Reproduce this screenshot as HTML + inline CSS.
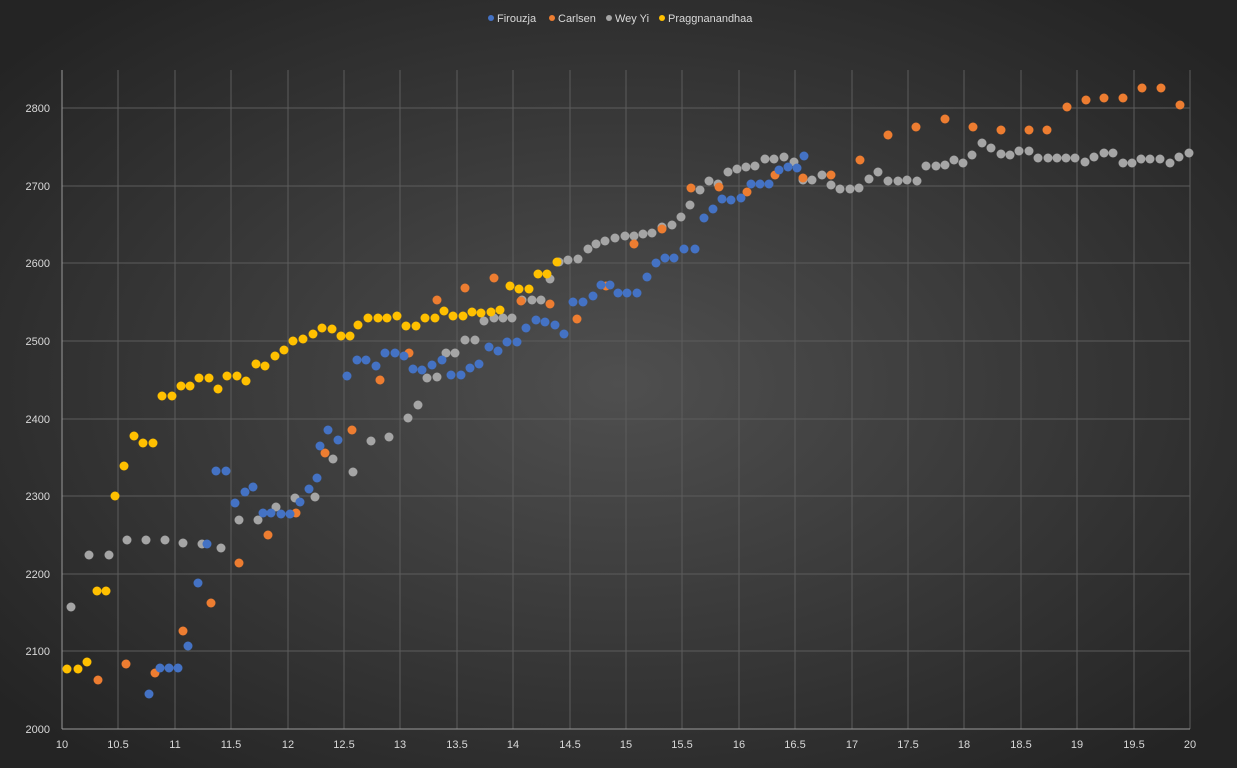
<!DOCTYPE html><html><head><style>html,body{margin:0;padding:0;background:#2a2a2a;overflow:hidden}svg{display:block}</style></head><body>
<svg width="1237" height="768" xmlns="http://www.w3.org/2000/svg" font-family="Liberation Sans, sans-serif">
<defs><radialGradient id="bg" cx="50%" cy="50%" r="65%"><stop offset="0" stop-color="#4f4f4f"/><stop offset="1" stop-color="#242424"/></radialGradient></defs>
<rect width="1237" height="768" fill="url(#bg)"/>
<g stroke="#5c5c5c" stroke-width="1">
<line x1="62" x2="1190" y1="108" y2="108"/><line x1="62" x2="1190" y1="186" y2="186"/><line x1="62" x2="1190" y1="263" y2="263"/><line x1="62" x2="1190" y1="341" y2="341"/><line x1="62" x2="1190" y1="419" y2="419"/><line x1="62" x2="1190" y1="496" y2="496"/><line x1="62" x2="1190" y1="574" y2="574"/><line x1="62" x2="1190" y1="651" y2="651"/>
<line y1="70" y2="729" x1="118" x2="118"/><line y1="70" y2="729" x1="175" x2="175"/><line y1="70" y2="729" x1="231" x2="231"/><line y1="70" y2="729" x1="288" x2="288"/><line y1="70" y2="729" x1="344" x2="344"/><line y1="70" y2="729" x1="400" x2="400"/><line y1="70" y2="729" x1="457" x2="457"/><line y1="70" y2="729" x1="513" x2="513"/><line y1="70" y2="729" x1="570" x2="570"/><line y1="70" y2="729" x1="626" x2="626"/><line y1="70" y2="729" x1="682" x2="682"/><line y1="70" y2="729" x1="739" x2="739"/><line y1="70" y2="729" x1="795" x2="795"/><line y1="70" y2="729" x1="852" x2="852"/><line y1="70" y2="729" x1="908" x2="908"/><line y1="70" y2="729" x1="964" x2="964"/><line y1="70" y2="729" x1="1021" x2="1021"/><line y1="70" y2="729" x1="1077" x2="1077"/><line y1="70" y2="729" x1="1134" x2="1134"/><line y1="70" y2="729" x1="1190" x2="1190"/>
</g>
<line x1="62" x2="62" y1="70" y2="729" stroke="#999"/><line x1="62" x2="1190" y1="729" y2="729" stroke="#999"/>
<g fill="#d9d9d9" font-size="11" text-anchor="end">
<text x="50" y="112">2800</text><text x="50" y="190">2700</text><text x="50" y="267">2600</text><text x="50" y="345">2500</text><text x="50" y="423">2400</text><text x="50" y="500">2300</text><text x="50" y="578">2200</text><text x="50" y="655">2100</text><text x="50" y="733">2000</text>
</g>
<g fill="#d9d9d9" font-size="11" text-anchor="middle">
<text x="62" y="748">10</text><text x="118" y="748">10.5</text><text x="175" y="748">11</text><text x="231" y="748">11.5</text><text x="288" y="748">12</text><text x="344" y="748">12.5</text><text x="400" y="748">13</text><text x="457" y="748">13.5</text><text x="513" y="748">14</text><text x="570" y="748">14.5</text><text x="626" y="748">15</text><text x="682" y="748">15.5</text><text x="739" y="748">16</text><text x="795" y="748">16.5</text><text x="852" y="748">17</text><text x="908" y="748">17.5</text><text x="964" y="748">18</text><text x="1021" y="748">18.5</text><text x="1077" y="748">19</text><text x="1134" y="748">19.5</text><text x="1190" y="748">20</text>
</g>
<g font-size="11" fill="#d9d9d9">
<circle cx="491" cy="18" r="3" fill="#4472c4"/><text x="497" y="22">Firouzja</text>
<circle cx="552" cy="18" r="3" fill="#ed7d31"/><text x="558" y="22">Carlsen</text>
<circle cx="609" cy="18" r="3" fill="#a5a5a5"/><text x="615" y="22">Wey Yi</text>
<circle cx="662" cy="18" r="3" fill="#ffc000"/><text x="668" y="22">Praggnanandhaa</text>
</g>
<g fill="#a5a5a5">
<circle cx="71" cy="607" r="4.5"/><circle cx="89" cy="555" r="4.5"/><circle cx="109" cy="555" r="4.5"/><circle cx="127" cy="540" r="4.5"/><circle cx="146" cy="540" r="4.5"/><circle cx="165" cy="540" r="4.5"/><circle cx="183" cy="543" r="4.5"/><circle cx="202" cy="544" r="4.5"/><circle cx="221" cy="548" r="4.5"/><circle cx="239" cy="520" r="4.5"/><circle cx="258" cy="520" r="4.5"/><circle cx="276" cy="507" r="4.5"/><circle cx="295" cy="498" r="4.5"/><circle cx="315" cy="497" r="4.5"/><circle cx="333" cy="459" r="4.5"/><circle cx="353" cy="472" r="4.5"/><circle cx="371" cy="441" r="4.5"/><circle cx="389" cy="437" r="4.5"/><circle cx="408" cy="418" r="4.5"/><circle cx="418" cy="405" r="4.5"/><circle cx="427" cy="378" r="4.5"/><circle cx="437" cy="377" r="4.5"/><circle cx="446" cy="353" r="4.5"/><circle cx="455" cy="353" r="4.5"/><circle cx="465" cy="340" r="4.5"/><circle cx="475" cy="340" r="4.5"/><circle cx="484" cy="321" r="4.5"/><circle cx="494" cy="318" r="4.5"/><circle cx="503" cy="318" r="4.5"/><circle cx="512" cy="318" r="4.5"/><circle cx="522" cy="300" r="4.5"/><circle cx="532" cy="300" r="4.5"/><circle cx="541" cy="300" r="4.5"/><circle cx="550" cy="279" r="4.5"/><circle cx="559" cy="262" r="4.5"/><circle cx="568" cy="260" r="4.5"/><circle cx="578" cy="259" r="4.5"/><circle cx="588" cy="249" r="4.5"/><circle cx="596" cy="244" r="4.5"/><circle cx="605" cy="241" r="4.5"/><circle cx="615" cy="238" r="4.5"/><circle cx="625" cy="236" r="4.5"/><circle cx="634" cy="236" r="4.5"/><circle cx="643" cy="234" r="4.5"/><circle cx="652" cy="233" r="4.5"/><circle cx="662" cy="227" r="4.5"/><circle cx="672" cy="225" r="4.5"/><circle cx="681" cy="217" r="4.5"/><circle cx="690" cy="205" r="4.5"/><circle cx="700" cy="190" r="4.5"/><circle cx="709" cy="181" r="4.5"/><circle cx="718" cy="184" r="4.5"/><circle cx="728" cy="172" r="4.5"/><circle cx="737" cy="169" r="4.5"/><circle cx="746" cy="167" r="4.5"/><circle cx="755" cy="166" r="4.5"/><circle cx="765" cy="159" r="4.5"/><circle cx="774" cy="159" r="4.5"/><circle cx="784" cy="157" r="4.5"/><circle cx="794" cy="162" r="4.5"/><circle cx="803" cy="180" r="4.5"/><circle cx="812" cy="180" r="4.5"/><circle cx="822" cy="175" r="4.5"/><circle cx="831" cy="185" r="4.5"/><circle cx="840" cy="189" r="4.5"/><circle cx="850" cy="189" r="4.5"/><circle cx="859" cy="188" r="4.5"/><circle cx="869" cy="179" r="4.5"/><circle cx="878" cy="172" r="4.5"/><circle cx="888" cy="181" r="4.5"/><circle cx="898" cy="181" r="4.5"/><circle cx="907" cy="180" r="4.5"/><circle cx="917" cy="181" r="4.5"/><circle cx="926" cy="166" r="4.5"/><circle cx="936" cy="166" r="4.5"/><circle cx="945" cy="165" r="4.5"/><circle cx="954" cy="160" r="4.5"/><circle cx="963" cy="163" r="4.5"/><circle cx="972" cy="155" r="4.5"/><circle cx="982" cy="143" r="4.5"/><circle cx="991" cy="148" r="4.5"/><circle cx="1001" cy="154" r="4.5"/><circle cx="1010" cy="155" r="4.5"/><circle cx="1019" cy="151" r="4.5"/><circle cx="1029" cy="151" r="4.5"/><circle cx="1038" cy="158" r="4.5"/><circle cx="1048" cy="158" r="4.5"/><circle cx="1057" cy="158" r="4.5"/><circle cx="1066" cy="158" r="4.5"/><circle cx="1075" cy="158" r="4.5"/><circle cx="1085" cy="162" r="4.5"/><circle cx="1094" cy="157" r="4.5"/><circle cx="1104" cy="153" r="4.5"/><circle cx="1113" cy="153" r="4.5"/><circle cx="1123" cy="163" r="4.5"/><circle cx="1132" cy="163" r="4.5"/><circle cx="1141" cy="159" r="4.5"/><circle cx="1150" cy="159" r="4.5"/><circle cx="1160" cy="159" r="4.5"/><circle cx="1170" cy="163" r="4.5"/><circle cx="1179" cy="157" r="4.5"/><circle cx="1189" cy="153" r="4.5"/>
</g>
<g fill="#ed7d31">
<circle cx="98" cy="680" r="4.5"/><circle cx="126" cy="664" r="4.5"/><circle cx="155" cy="673" r="4.5"/><circle cx="183" cy="631" r="4.5"/><circle cx="211" cy="603" r="4.5"/><circle cx="239" cy="563" r="4.5"/><circle cx="268" cy="535" r="4.5"/><circle cx="296" cy="513" r="4.5"/><circle cx="325" cy="453" r="4.5"/><circle cx="352" cy="430" r="4.5"/><circle cx="380" cy="380" r="4.5"/><circle cx="409" cy="353" r="4.5"/><circle cx="437" cy="300" r="4.5"/><circle cx="465" cy="288" r="4.5"/><circle cx="494" cy="278" r="4.5"/><circle cx="521" cy="301" r="4.5"/><circle cx="550" cy="304" r="4.5"/><circle cx="577" cy="319" r="4.5"/><circle cx="606" cy="286" r="4.5"/><circle cx="634" cy="244" r="4.5"/><circle cx="662" cy="229" r="4.5"/><circle cx="691" cy="188" r="4.5"/><circle cx="719" cy="187" r="4.5"/><circle cx="747" cy="192" r="4.5"/><circle cx="775" cy="175" r="4.5"/><circle cx="803" cy="178" r="4.5"/><circle cx="831" cy="175" r="4.5"/><circle cx="860" cy="160" r="4.5"/><circle cx="888" cy="135" r="4.5"/><circle cx="916" cy="127" r="4.5"/><circle cx="945" cy="119" r="4.5"/><circle cx="973" cy="127" r="4.5"/><circle cx="1001" cy="130" r="4.5"/><circle cx="1029" cy="130" r="4.5"/><circle cx="1047" cy="130" r="4.5"/><circle cx="1067" cy="107" r="4.5"/><circle cx="1086" cy="100" r="4.5"/><circle cx="1104" cy="98" r="4.5"/><circle cx="1123" cy="98" r="4.5"/><circle cx="1142" cy="88" r="4.5"/><circle cx="1161" cy="88" r="4.5"/><circle cx="1180" cy="105" r="4.5"/>
</g>
<g fill="#4472c4">
<circle cx="149" cy="694" r="4.5"/><circle cx="160" cy="668" r="4.5"/><circle cx="169" cy="668" r="4.5"/><circle cx="178" cy="668" r="4.5"/><circle cx="188" cy="646" r="4.5"/><circle cx="198" cy="583" r="4.5"/><circle cx="207" cy="544" r="4.5"/><circle cx="216" cy="471" r="4.5"/><circle cx="226" cy="471" r="4.5"/><circle cx="235" cy="503" r="4.5"/><circle cx="245" cy="492" r="4.5"/><circle cx="253" cy="487" r="4.5"/><circle cx="263" cy="513" r="4.5"/><circle cx="271" cy="513" r="4.5"/><circle cx="281" cy="514" r="4.5"/><circle cx="290" cy="514" r="4.5"/><circle cx="300" cy="502" r="4.5"/><circle cx="309" cy="489" r="4.5"/><circle cx="317" cy="478" r="4.5"/><circle cx="320" cy="446" r="4.5"/><circle cx="328" cy="430" r="4.5"/><circle cx="338" cy="440" r="4.5"/><circle cx="347" cy="376" r="4.5"/><circle cx="357" cy="360" r="4.5"/><circle cx="366" cy="360" r="4.5"/><circle cx="376" cy="366" r="4.5"/><circle cx="385" cy="353" r="4.5"/><circle cx="395" cy="353" r="4.5"/><circle cx="404" cy="356" r="4.5"/><circle cx="413" cy="369" r="4.5"/><circle cx="422" cy="370" r="4.5"/><circle cx="432" cy="365" r="4.5"/><circle cx="442" cy="360" r="4.5"/><circle cx="451" cy="375" r="4.5"/><circle cx="461" cy="375" r="4.5"/><circle cx="470" cy="368" r="4.5"/><circle cx="479" cy="364" r="4.5"/><circle cx="489" cy="347" r="4.5"/><circle cx="498" cy="351" r="4.5"/><circle cx="507" cy="342" r="4.5"/><circle cx="517" cy="342" r="4.5"/><circle cx="526" cy="328" r="4.5"/><circle cx="536" cy="320" r="4.5"/><circle cx="545" cy="322" r="4.5"/><circle cx="555" cy="325" r="4.5"/><circle cx="564" cy="334" r="4.5"/><circle cx="573" cy="302" r="4.5"/><circle cx="583" cy="302" r="4.5"/><circle cx="593" cy="296" r="4.5"/><circle cx="601" cy="285" r="4.5"/><circle cx="610" cy="285" r="4.5"/><circle cx="618" cy="293" r="4.5"/><circle cx="627" cy="293" r="4.5"/><circle cx="637" cy="293" r="4.5"/><circle cx="647" cy="277" r="4.5"/><circle cx="656" cy="263" r="4.5"/><circle cx="665" cy="258" r="4.5"/><circle cx="674" cy="258" r="4.5"/><circle cx="684" cy="249" r="4.5"/><circle cx="695" cy="249" r="4.5"/><circle cx="704" cy="218" r="4.5"/><circle cx="713" cy="209" r="4.5"/><circle cx="722" cy="199" r="4.5"/><circle cx="731" cy="200" r="4.5"/><circle cx="741" cy="198" r="4.5"/><circle cx="751" cy="184" r="4.5"/><circle cx="760" cy="184" r="4.5"/><circle cx="769" cy="184" r="4.5"/><circle cx="779" cy="170" r="4.5"/><circle cx="788" cy="167" r="4.5"/><circle cx="797" cy="168" r="4.5"/><circle cx="804" cy="156" r="4.5"/>
</g>
<g fill="#ffc000">
<circle cx="67" cy="669" r="4.5"/><circle cx="78" cy="669" r="4.5"/><circle cx="87" cy="662" r="4.5"/><circle cx="97" cy="591" r="4.5"/><circle cx="106" cy="591" r="4.5"/><circle cx="115" cy="496" r="4.5"/><circle cx="124" cy="466" r="4.5"/><circle cx="134" cy="436" r="4.5"/><circle cx="143" cy="443" r="4.5"/><circle cx="153" cy="443" r="4.5"/><circle cx="162" cy="396" r="4.5"/><circle cx="172" cy="396" r="4.5"/><circle cx="181" cy="386" r="4.5"/><circle cx="190" cy="386" r="4.5"/><circle cx="199" cy="378" r="4.5"/><circle cx="209" cy="378" r="4.5"/><circle cx="218" cy="389" r="4.5"/><circle cx="227" cy="376" r="4.5"/><circle cx="237" cy="376" r="4.5"/><circle cx="246" cy="381" r="4.5"/><circle cx="256" cy="364" r="4.5"/><circle cx="265" cy="366" r="4.5"/><circle cx="275" cy="356" r="4.5"/><circle cx="284" cy="350" r="4.5"/><circle cx="293" cy="341" r="4.5"/><circle cx="303" cy="339" r="4.5"/><circle cx="313" cy="334" r="4.5"/><circle cx="322" cy="328" r="4.5"/><circle cx="332" cy="329" r="4.5"/><circle cx="341" cy="336" r="4.5"/><circle cx="350" cy="336" r="4.5"/><circle cx="358" cy="325" r="4.5"/><circle cx="368" cy="318" r="4.5"/><circle cx="378" cy="318" r="4.5"/><circle cx="387" cy="318" r="4.5"/><circle cx="397" cy="316" r="4.5"/><circle cx="406" cy="326" r="4.5"/><circle cx="416" cy="326" r="4.5"/><circle cx="425" cy="318" r="4.5"/><circle cx="435" cy="318" r="4.5"/><circle cx="444" cy="311" r="4.5"/><circle cx="453" cy="316" r="4.5"/><circle cx="463" cy="316" r="4.5"/><circle cx="472" cy="312" r="4.5"/><circle cx="481" cy="313" r="4.5"/><circle cx="491" cy="312" r="4.5"/><circle cx="500" cy="310" r="4.5"/><circle cx="510" cy="286" r="4.5"/><circle cx="519" cy="289" r="4.5"/><circle cx="529" cy="289" r="4.5"/><circle cx="538" cy="274" r="4.5"/><circle cx="547" cy="274" r="4.5"/><circle cx="557" cy="262" r="4.5"/>
</g>
</svg></body></html>
